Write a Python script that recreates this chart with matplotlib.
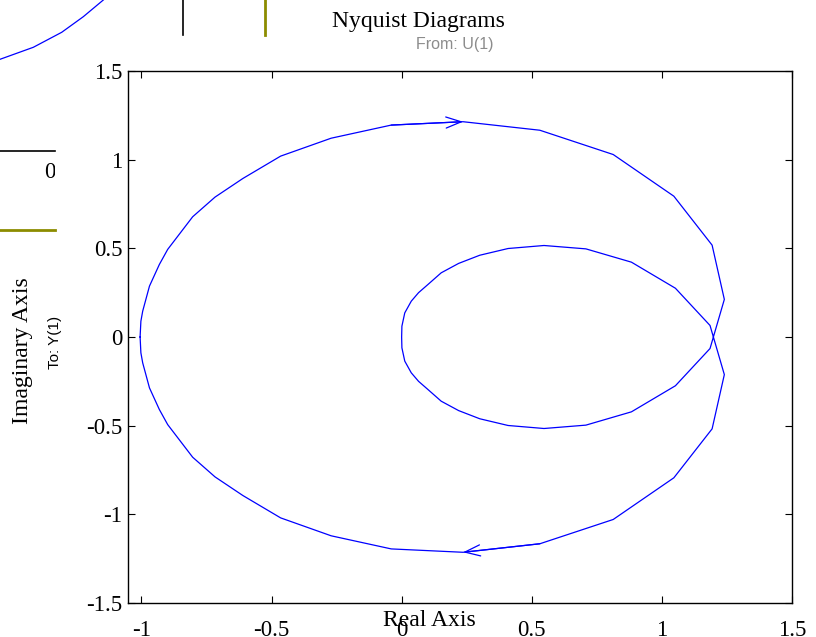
import matplotlib
matplotlib.use('Agg')
import matplotlib.pyplot as plt

plt.rcParams['axes.unicode_minus'] = False

# upper half of the outer loop (omega from 0 upward), left -> right
outer_re = [-1.005, -1.002, -0.995, -0.969, -0.931, -0.899, -0.803, -0.717, -0.610,
            -0.465, -0.271, -0.040, 0.236, 0.531, 0.813, 1.046, 1.193, 1.240]
outer_im = [0.0, 0.089, 0.146, 0.287, 0.409, 0.494, 0.678, 0.789, 0.894,
            1.020, 1.121, 1.195, 1.214, 1.166, 1.029, 0.794, 0.518, 0.212]
# upper half of the inner loop, from the origin to the crossing
inner_re = [0.0, 0.001, 0.012, 0.037, 0.065, 0.101, 0.152, 0.219, 0.300,
            0.409, 0.547, 0.708, 0.883, 1.052, 1.185]
inner_im = [0.0, 0.061, 0.136, 0.202, 0.250, 0.296, 0.362, 0.415, 0.461,
            0.499, 0.516, 0.497, 0.422, 0.275, 0.065]
arrow_idx = 12

xticks = [-1, -0.5, 0, 0.5, 1, 1.5]
yticks = [-1.5, -1, -0.5, 0, 0.5, 1, 1.5]

# leftover bits of another figure in the top-left corner (pixel coords)
stray_curve_x = [0, 33.3, 61.7, 83.3, 103.3]
stray_curve_y = [59.3, 47.3, 32.3, 16.7, 0]

# positive frequencies: outer top, then inner bottom back to origin
pos_re = outer_re + inner_re[::-1]
pos_im = outer_im + [-v for v in inner_im[::-1]]
# negative frequencies are the mirror image
neg_re = pos_re[::-1]
neg_im = [-v for v in pos_im[::-1]]

W, H = 816, 637
fig = plt.figure(figsize=(W / 100, H / 100), dpi=100)

# background layer for the stray lines
bg = fig.add_axes([0, 0, 1, 1], zorder=0)
bg.set_xlim(0, W)
bg.set_ylim(H, 0)
bg.axis('off')
bg.plot(stray_curve_x, stray_curve_y, color='blue', lw=0.9)
bg.plot([183.3, 183.3], [0, 35], color='black', lw=1.2)
bg.plot([265.3, 265.3], [0, 35], color='#8c8c00', lw=2)
bg.plot([0, 55], [151, 151], color='black', lw=1.2)
bg.plot([0, 55], [229.5, 229.5], color='#8c8c00', lw=2)

stub = fig.add_axes([0, 1 - 235 / H, 55 / W, 95 / H], zorder=0)
stub.set_xlim(0, 55)
stub.set_ylim(235, 140)
stub.axis('off')
stub.text(50, 172, '0', ha='center', va='center', fontsize=16.5,
          family='Liberation Serif', clip_on=True)

ax = fig.add_axes([128 / W, 1 - 603 / H, (792 - 128) / W, (603 - 71) / H], zorder=1)
ax.patch.set_alpha(0)
ax.plot(pos_re + neg_re, pos_im + neg_im, color='blue', lw=0.9)

head = dict(arrowstyle='->,head_length=1.1,head_width=0.4', color='blue',
            lw=0.9, mutation_scale=10, shrinkA=0, shrinkB=0)
ax.annotate('', xy=(outer_re[arrow_idx], outer_im[arrow_idx]),
            xytext=(outer_re[arrow_idx - 1], outer_im[arrow_idx - 1]), arrowprops=head)
ax.annotate('', xy=(outer_re[arrow_idx], -outer_im[arrow_idx]),
            xytext=(outer_re[arrow_idx + 1], -outer_im[arrow_idx + 1]), arrowprops=head)

ax.set_xlim(-1.0515, 1.5)
ax.set_ylim(-1.5, 1.5)
ax.set_xticks(xticks)
ax.set_yticks(yticks)
ax.set_xticklabels([('%g' % v) for v in xticks])
ax.set_yticklabels([('%g' % v) for v in yticks])
ax.tick_params(direction='in', length=5, width=0.8, top=True, right=True,
               labelsize=16.5)
ax.tick_params(axis='x', pad=12)
ax.tick_params(axis='y', pad=4)
for lab in ax.get_xticklabels() + ax.get_yticklabels():
    lab.set_family('Liberation Serif')
for s in ax.spines.values():
    s.set_linewidth(1.0)

fig.text(418 / W, 1 - 27.3 / H, 'Nyquist Diagrams', ha='center', va='baseline',
         fontsize=17, family='Liberation Serif')
fig.text(455 / W, 1 - 44 / H, 'From: U(1)', ha='center', va='center',
         fontsize=11.5, family='Liberation Sans', color='#8c8c8c')
fig.text(23 / W, 1 - 351 / H, 'Imaginary Axis', ha='center', va='center',
         rotation=90, fontsize=17, family='Liberation Serif')
fig.text(55 / W, 1 - 342 / H, 'To: Y(1)', ha='center', va='center',
         rotation=90, fontsize=11, family='Liberation Sans')
fig.text(429 / W, 1 - 620 / H, 'Real Axis', ha='center', va='center',
         fontsize=17, family='Liberation Serif')

fig.savefig('out.png', dpi=100)
